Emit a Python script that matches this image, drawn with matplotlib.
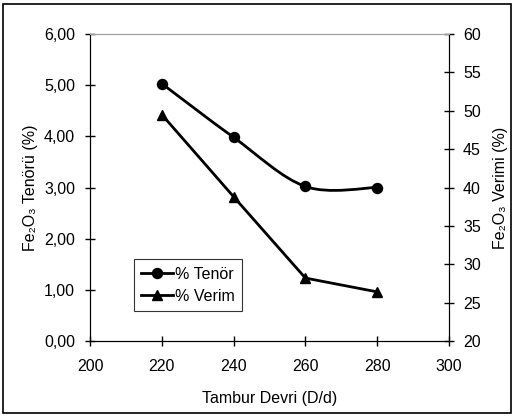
import numpy as np
import matplotlib
matplotlib.use('Agg')
import matplotlib.pyplot as plt
from matplotlib.path import Path
from matplotlib.patches import PathPatch
from matplotlib.lines import Line2D

plt.rcParams['font.family'] = ['Liberation Sans', 'DejaVu Sans']
fs = 11.5

# drum speed (rpm) and the two measured series
devir = [220, 240, 260, 280]
tenor = [5.03, 3.98, 3.02, 3.00]   # Fe2O3 grade, %
verim = [49.5, 38.8, 28.2, 26.4]   # Fe2O3 recovery, %

x_ticks = [200, 220, 240, 260, 280, 300]
left_ticks = [0, 1, 2, 3, 4, 5, 6]
right_ticks = [20, 25, 30, 35, 40, 45, 50, 55, 60]


def smooth_path(xs, ys):
    # Catmull-Rom style bezier through the points (spreadsheet "smoothed line")
    p = np.column_stack([xs, ys]).astype(float)
    pad = np.vstack([p[0], p, p[-1]])
    verts = [p[0]]
    codes = [Path.MOVETO]
    for i in range(len(p) - 1):
        p0, p1, p2, p3 = pad[i], pad[i + 1], pad[i + 2], pad[i + 3]
        c1 = p1 + (p2 - p0) / 6.0
        c2 = p2 - (p3 - p1) / 6.0
        verts += [c1, c2, p2]
        codes += [Path.CURVE4] * 3
    return Path(verts, codes)


fig = plt.figure(figsize=(5.14, 4.17), dpi=100)
ax = fig.add_axes([90 / 514, 1 - 341 / 417, 359 / 514, 307 / 417])
ax2 = ax.twinx()

lw = 2.0
ax.add_patch(PathPatch(smooth_path(devir, tenor), fill=False, lw=lw, color='black', zorder=3))
ax.plot(devir, tenor, ls='none', marker='o', ms=7.2, color='black', zorder=4)
ax2.plot(devir, verim, ls='-', lw=lw, marker='^', ms=7.8, color='black', zorder=4)

ax.set_xlim(200, 300)
ax.set_ylim(0, 6)
ax2.set_ylim(20, 60)
ax.set_xticks(x_ticks)
ax.set_yticks(left_ticks)
ax.set_yticklabels([('%.2f' % v).replace('.', ',') for v in left_ticks])
ax2.set_yticks(right_ticks)

for a in (ax, ax2):
    a.spines['top'].set_color('#a0a0a0')
    a.spines['left'].set_color('black')
    a.spines['right'].set_color('black')
    a.spines['bottom'].set_color('black')
ax.tick_params(axis='x', direction='inout', length=6.5, width=1, labelsize=fs, pad=10)
ax.tick_params(axis='y', direction='inout', length=6.5, width=1, labelsize=fs, pad=7.5)
ax2.tick_params(axis='y', direction='inout', length=6.5, width=1, labelsize=fs, pad=6.8)

ax.set_xlabel('Tambur Devri (D/d)', fontsize=fs, labelpad=12)
ax.set_ylabel('Fe₂O₃ Tenörü (%)', fontsize=fs, labelpad=4)
ax2.set_ylabel('Fe₂O₃ Verimi (%)', fontsize=fs, labelpad=9)

handles = [
    Line2D([], [], color='black', lw=lw, marker='o', ms=7.2),
    Line2D([], [], color='black', lw=lw, marker='^', ms=7.8),
]
leg = ax.legend(handles, ['% Tenör', '% Verim'], loc='lower left',
                bbox_to_anchor=(0.122, 0.098), frameon=True, fancybox=False,
                edgecolor='black', fontsize=fs, handlelength=2.0, handletextpad=0.15,
                borderpad=0.45, labelspacing=0.45, borderaxespad=0)
leg.get_frame().set_linewidth(0.8)

# outer frame around the whole figure
fig.patches.append(plt.Rectangle((3 / 514, 4 / 417), 508 / 514, 409 / 417,
                                 transform=fig.transFigure, fill=False,
                                 edgecolor='black', lw=1.2))

fig.savefig('out.png', dpi=100)
